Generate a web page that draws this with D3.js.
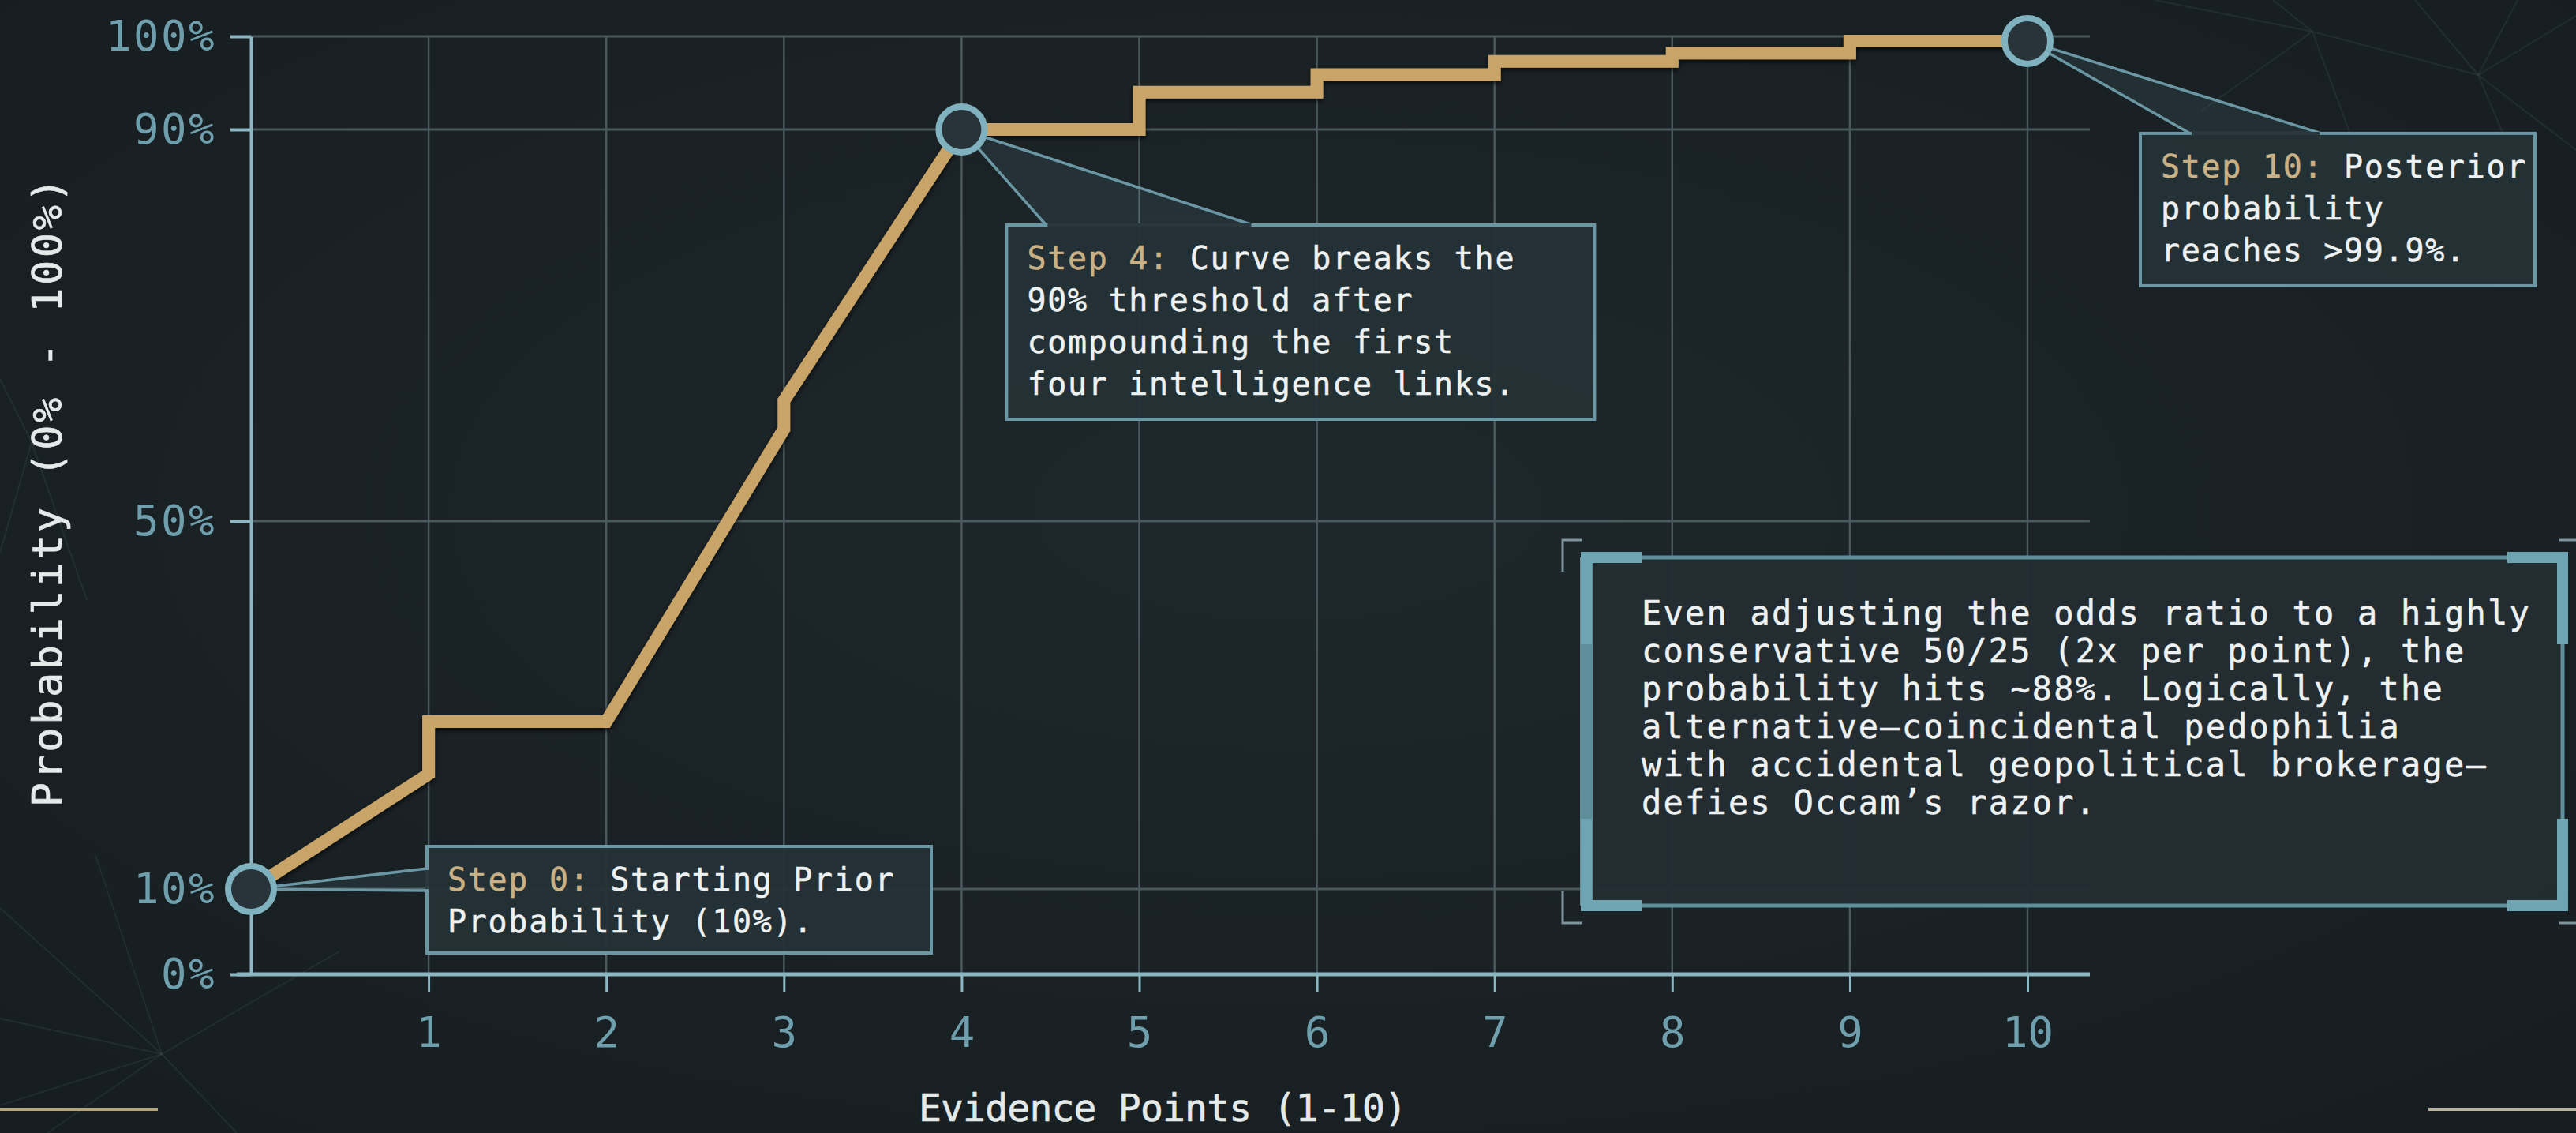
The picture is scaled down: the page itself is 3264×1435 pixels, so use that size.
<!DOCTYPE html>
<html>
<head>
<meta charset="utf-8">
<script src="https://cdn.jsdelivr.net/npm/d3@7"></script>
<style>
html, body { margin: 0; padding: 0; background: #1b2327; overflow: hidden; }
svg { display: block; }
text { font-family: "DejaVu Sans Mono", "Liberation Mono", monospace; }
</style>
</head>
<body>
<svg width="3264" height="1435"></svg>
<script>
// Evidence point (x) and probability in % -- a jump reuses the same x
var stepX    = [0, 1, 1, 2, 3, 3, 4, 5, 5, 6, 6, 7, 7, 8, 8, 9, 9, 10];
var stepProb = [10, 22.5, 28.2, 28.2, 59.4, 62.3, 90, 90, 94, 94, 95.9, 95.9, 97.3, 97.3, 98.2, 98.2, 99.5, 99.5];

var xTicks = [1, 2, 3, 4, 5, 6, 7, 8, 9, 10];
var yTicks = [0, 10, 50, 90, 100];

// Callouts
var noteSteps = [0, 4, 10];
var noteKeys = ["Step 0:", "Step 4:", "Step 10:"];
var noteLines = [
	[" Starting Prior", "Probability (10%)."],
	[" Curve breaks the", "90% threshold after", "compounding the first", "four intelligence links."],
	[" Posterior", "probability", "reaches >99.9%."]
];

var summaryLines = [
	"Even adjusting the odds ratio to a highly",
	"conservative 50/25 (2x per point), the",
	"probability hits ~88%. Logically, the",
	"alternative\u2014coincidental pedophilia",
	"with accidental geopolitical brokerage\u2014",
	"defies Occam\u2019s razor."
];

var xTitle = "Evidence Points (1-10)";
var yTitle = "Probability (0% - 100%)";

var svg = d3.select("svg"),
	width = +svg.attr("width"),
	height = +svg.attr("height");

// Scales (y axis is stretched a bit in the middle, so piecewise)
var x = d3.scaleLinear().domain([0, 10]).range([318, 2569]);
var y = d3.scaleLinear().domain(yTicks).range([1234, 1126, 660, 164, 46]);
var xEnd = x(10) + 79;

var gold = "#c8a467",
	teal = "#6f9fac",
	axisCol = "#8cb6c2",
	gridCol = "#4a595e",
	boxStroke = "#6a97a3";

var defs = svg.append("defs");
var bg = defs.append("radialGradient").attr("id", "bg")
	.attr("cx", "50%").attr("cy", "45%").attr("r", "75%");
bg.append("stop").attr("offset", "0%").attr("stop-color", "#1e272b");
bg.append("stop").attr("offset", "100%").attr("stop-color", "#161d20");

var shadow = defs.append("filter").attr("id", "shadow")
	.attr("x", "-10%").attr("y", "-10%").attr("width", "120%").attr("height", "120%");
shadow.append("feDropShadow").attr("dx", 0).attr("dy", 3)
	.attr("stdDeviation", 3).attr("flood-color", "#000").attr("flood-opacity", 0.7);

svg.append("rect").attr("width", width).attr("height", height).attr("fill", "url(#bg)");

// faint network lines in the background
var webs = [
	{ hub: [205, 1335], ends: [[0, 1150], [0, 1290], [60, 1435], [300, 1435], [430, 1205], [0, 1400], [120, 1080]] },
	{ hub: [2930, 40], ends: [[2730, 0], [2880, 0], [3140, 95], [3000, 230], [2790, 140]] },
	{ hub: [3140, 95], ends: [[3264, 20], [3264, 190], [3190, 0], [3060, 0], [3210, 260]] },
	{ hub: [40, 560], ends: [[0, 480], [110, 760], [0, 700]] }
];
var webG = svg.append("g").attr("stroke", "#8aa3aa").attr("stroke-opacity", 0.1).attr("stroke-width", 2);
webs.forEach((w) => {
	w.ends.forEach((e) => {
		webG.append("line").attr("x1", w.hub[0]).attr("y1", w.hub[1]).attr("x2", e[0]).attr("y2", e[1]);
	});
});

// corner accents
svg.append("line").attr("x1", 0).attr("x2", 200).attr("y1", 1405).attr("y2", 1405)
	.attr("stroke", "#b6a57c").attr("stroke-width", 4);
svg.append("line").attr("x1", 3077).attr("x2", width).attr("y1", 1405).attr("y2", 1405)
	.attr("stroke", "#b9b39f").attr("stroke-width", 4);

// Grid
var grid = svg.append("g").attr("stroke", gridCol);
grid.selectAll(".hg").data(yTicks.filter((d) => d > 0)).enter().append("line")
	.attr("x1", x(0)).attr("x2", xEnd)
	.attr("y1", (d) => y(d)).attr("y2", (d) => y(d))
	.attr("stroke-width", 3);
grid.selectAll(".vg").data(xTicks).enter().append("line")
	.attr("x1", (d) => x(d)).attr("x2", (d) => x(d))
	.attr("y1", y(0)).attr("y2", y(100))
	.attr("stroke-width", 2.5);

// Axes
var yAxis = svg.append("g").attr("transform", "translate(" + x(0) + ",0)")
	.call(d3.axisLeft(y).tickValues(yTicks).tickFormat((d) => d + "%")
		.tickSize(26).tickSizeOuter(0).tickPadding(18));
yAxis.select(".domain").attr("stroke", axisCol).attr("stroke-width", 4);
yAxis.selectAll(".tick line").attr("stroke", axisCol).attr("stroke-width", 4);
yAxis.selectAll(".tick text").attr("fill", teal).attr("font-size", 54)
	.attr("letter-spacing", 2.5).attr("font-family", "DejaVu Sans Mono");

var xAxis = svg.append("g").attr("transform", "translate(0," + y(0) + ")")
	.call(d3.axisBottom(x).tickValues(xTicks).tickSize(22).tickPadding(32));
xAxis.select(".domain").remove();
xAxis.append("line").attr("x1", x(0) - 18).attr("x2", xEnd).attr("y1", 0).attr("y2", 0)
	.attr("stroke", axisCol).attr("stroke-width", 5);
xAxis.selectAll(".tick line").attr("stroke", axisCol).attr("stroke-width", 3);
xAxis.selectAll(".tick text").attr("fill", teal).attr("font-size", 54)
	.attr("font-family", "DejaVu Sans Mono");

// Axis titles
svg.append("text").attr("x", (x(0) + xEnd) / 2 - 10).attr("y", 1420)
	.attr("text-anchor", "middle").attr("fill", "#e4e9ea")
	.attr("stroke", "#e4e9ea").attr("stroke-width", 0.6)
	.attr("font-size", 48).attr("letter-spacing", -0.8).text(xTitle);
svg.append("text").attr("transform", "translate(60,622) rotate(-90)")
	.attr("text-anchor", "middle").attr("dominant-baseline", "central")
	.attr("fill", "#e4e9ea").attr("stroke", "#e4e9ea").attr("stroke-width", 0.6)
	.attr("font-size", 52).attr("letter-spacing", 3.5).text(yTitle);

// Probability line
var pts = d3.zip(stepX, stepProb);
var line = d3.line().x((d) => x(d[0])).y((d) => y(d[1]));
svg.append("path").datum(pts)
	.attr("d", line)
	.attr("fill", "none")
	.attr("stroke", gold)
	.attr("stroke-width", 16)
	.attr("stroke-linejoin", "miter")
	.attr("filter", "url(#shadow)");

// Callouts: box offset from the point, plus where the pointer meets the box
var layouts = [
	{ dx: 223, dy: -54, w: 639, h: 135, side: "left", p1: 28, p2: 56 },
	{ dx: 57, dy: 121, w: 745, h: 246, side: "top", p1: 50, p2: 312 },
	{ dx: 143, dy: 117, w: 500, h: 193, side: "top", p1: 63, p2: 229 }
];

noteSteps.forEach((s, i) => {
	var idx = stepX.lastIndexOf(s);
	var ax = x(stepX[idx]), ay = y(stepProb[idx]);
	var L = layouts[i];
	var bx = ax + L.dx, by = ay + L.dy;
	var a, b;
	if (L.side == "left") { a = [bx, by + L.p1]; b = [bx, by + L.p2]; }
	else { a = [bx + L.p1, by]; b = [bx + L.p2, by]; }

	var g = svg.append("g");
	g.append("path")
		.attr("d", "M" + ax + "," + ay + "L" + a + "L" + b + "Z")
		.attr("fill", "#6f9fac").attr("fill-opacity", 0.12)
		.attr("stroke", boxStroke).attr("stroke-width", 3.5).attr("stroke-linejoin", "round");
	g.append("rect").attr("x", bx).attr("y", by).attr("width", L.w).attr("height", L.h)
		.attr("fill", "#243136").attr("fill-opacity", 0.95)
		.attr("stroke", boxStroke).attr("stroke-width", 4);
	// cover the pointer seam
	if (L.side == "left")
		g.append("line").attr("x1", bx).attr("x2", bx).attr("y1", a[1] + 2).attr("y2", b[1] - 2)
			.attr("stroke", "#2a383d").attr("stroke-width", 4);
	else
		g.append("line").attr("x1", a[0] + 2).attr("x2", b[0] - 2).attr("y1", by).attr("y2", by)
			.attr("stroke", "#2a383d").attr("stroke-width", 4);

	var t = g.append("text").attr("font-size", 40).attr("letter-spacing", 1.7)
		.attr("fill", "#eef1f1").attr("stroke", "#eef1f1").attr("stroke-width", 0.5);
	noteLines[i].forEach((ln, j) => {
		var ts = t.append("tspan").attr("x", bx + 26).attr("y", by + 56 + j * 53);
		if (j == 0) {
			ts.append("tspan").attr("fill", "#c9b185").attr("stroke", "#c9b185").text(noteKeys[i]);
			ts.append("tspan").text(ln);
		} else {
			ts.text(ln);
		}
	});

	svg.append("circle").attr("cx", ax).attr("cy", ay).attr("r", 29)
		.attr("fill", "#28333a").attr("stroke", "#7fb1be").attr("stroke-width", 8);
});

// Summary box
var sx = 2010, sy = 706, sw = 1237, sh = 441;
var sg = svg.append("g");
sg.append("rect").attr("x", sx).attr("y", sy).attr("width", sw).attr("height", sh)
	.attr("fill", "#222d32").attr("fill-opacity", 0.96)
	.attr("stroke", "#5f8f9b").attr("stroke-width", 5);
sg.append("line").attr("x1", sx).attr("x2", sx).attr("y1", sy).attr("y2", sy + sh)
	.attr("stroke", "#5f8f9b").attr("stroke-width", 16);
var cornerPaths = [
	"M" + (sx + 70) + "," + sy + "H" + sx + "V" + (sy + 110),
	"M" + (sx + 70) + "," + (sy + sh) + "H" + sx + "V" + (sy + sh - 110),
	"M" + (sx + sw - 70) + "," + sy + "H" + (sx + sw) + "V" + (sy + 110),
	"M" + (sx + sw - 70) + "," + (sy + sh) + "H" + (sx + sw) + "V" + (sy + sh - 110)
];
sg.selectAll(".corner").data(cornerPaths).enter().append("path")
	.attr("d", (d) => d).attr("fill", "none")
	.attr("stroke", "#6fa5b2").attr("stroke-width", 14).attr("stroke-linejoin", "miter");
var outerPaths = [
	"M" + (sx - 5) + "," + (sy - 22) + "H" + (sx - 30) + "V" + (sy + 18),
	"M" + (sx - 5) + "," + (sy + sh + 22) + "H" + (sx - 30) + "V" + (sy + sh - 18),
	"M" + (sx + sw - 5) + "," + (sy - 22) + "H" + width,
	"M" + (sx + sw - 5) + "," + (sy + sh + 22) + "H" + width
];
sg.selectAll(".outer").data(outerPaths).enter().append("path")
	.attr("d", (d) => d).attr("fill", "none")
	.attr("stroke", "#7f959b").attr("stroke-width", 3);

var st = sg.append("text").attr("font-size", 42).attr("letter-spacing", 2.2)
	.attr("fill", "#eef1f1").attr("stroke", "#eef1f1").attr("stroke-width", 0.5);
summaryLines.forEach((ln, j) => {
	st.append("tspan").attr("x", 2080).attr("y", 791 + j * 48).text(ln);
});
</script>
</body>
</html>
